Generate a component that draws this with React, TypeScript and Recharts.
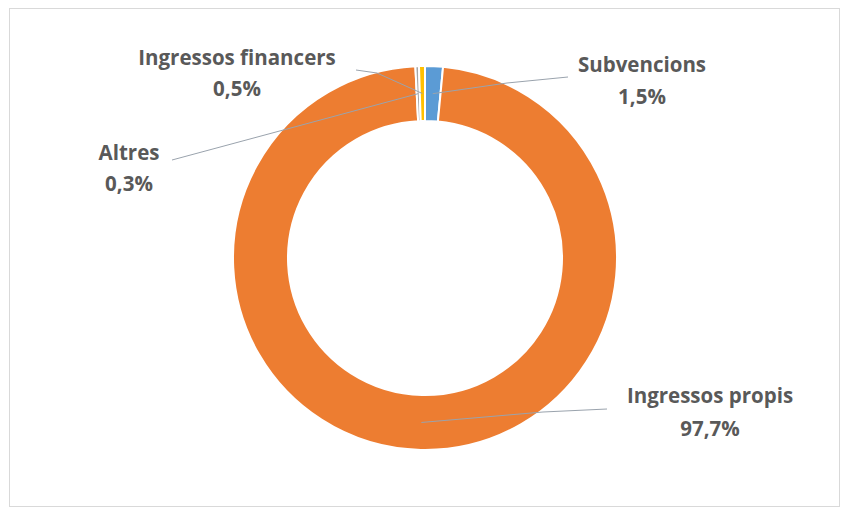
import { Cell, Pie, PieChart } from "recharts";

const categories = ["Subvencions", "Ingressos propis", "Altres", "Ingressos financers"];
const shares = [1.5, 97.7, 0.3, 0.5];
const sliceColors = ["#5B9BD5", "#ED7D31", "#A5A5A5", "#FFC000"];

// label placement (text centre, leader elbow, leader end near the text)
const labelLayout = [
  { x: 642, y1: 64, y2: 96, elbow: [507, 83], end: [568, 77] },
  { x: 710, y1: 395, y2: 428, elbow: [543, 412], end: [607, 409] },
  { x: 129, y1: 152, y2: 183, elbow: null, end: [172, 160] },
  { x: 237, y1: 57, y2: 88, elbow: [377, 73], end: [356, 70] },
];

const chartData = categories.map((name, i) => ({ name, value: shares[i] }));

const RADIAN = Math.PI / 180;
const labelFont = "'Open Sans', Lato, sans-serif";

function renderLabel(props: any) {
  const { cx, cy, midAngle, innerRadius, outerRadius, index } = props;
  const layout = labelLayout[index];
  const r = (innerRadius + outerRadius) / 2;
  const sx = cx + r * Math.cos(-midAngle * RADIAN);
  const sy = cy + r * Math.sin(-midAngle * RADIAN);
  const pts = [[sx, sy]];
  if (layout.elbow) pts.push(layout.elbow);
  pts.push(layout.end);
  const pct = shares[index].toFixed(1).replace(".", ",") + "%";
  return (
    <g key={`lbl-${index}`}>
      <polyline
        points={pts.map((p) => p.join(",")).join(" ")}
        fill="none"
        stroke="#9aa3ad"
        strokeWidth={1}
      />
      <text
        x={layout.x}
        y={layout.y1}
        textAnchor="middle"
        dominantBaseline="central"
        fill="#595959"
        fontSize={20.5}
        fontWeight={700}
        fontFamily={labelFont}
      >
        {categories[index]}
      </text>
      <text
        x={layout.x}
        y={layout.y2}
        textAnchor="middle"
        dominantBaseline="central"
        fill="#595959"
        fontSize={20.5}
        fontWeight={700}
        fontFamily={labelFont}
      >
        {pct}
      </text>
    </g>
  );
}

export default function App() {
  return (
    <div
      style={{
        position: "absolute",
        left: 0,
        top: 0,
        width: 841,
        height: 509,
        background: "#ffffff",
      }}
    >
      <div
        style={{
          position: "absolute",
          left: 9,
          top: 8,
          width: 829,
          height: 497,
          border: "1px solid #d9d9d9",
        }}
      />
      <PieChart
        width={841}
        height={509}
        margin={{ top: 0, right: 0, bottom: 0, left: 0 }}
        style={{ position: "absolute", left: 0, top: 0 }}
      >
        <Pie
          data={chartData}
          dataKey="value"
          nameKey="name"
          cx={425}
          cy={258}
          innerRadius={137}
          outerRadius={192}
          startAngle={90}
          endAngle={-270}
          stroke="#ffffff"
          strokeWidth={2}
          label={renderLabel}
          labelLine={false}
          isAnimationActive={false}
        >
          {chartData.map((d, i) => (
            <Cell key={d.name} fill={sliceColors[i]} />
          ))}
        </Pie>
      </PieChart>
    </div>
  );
}
